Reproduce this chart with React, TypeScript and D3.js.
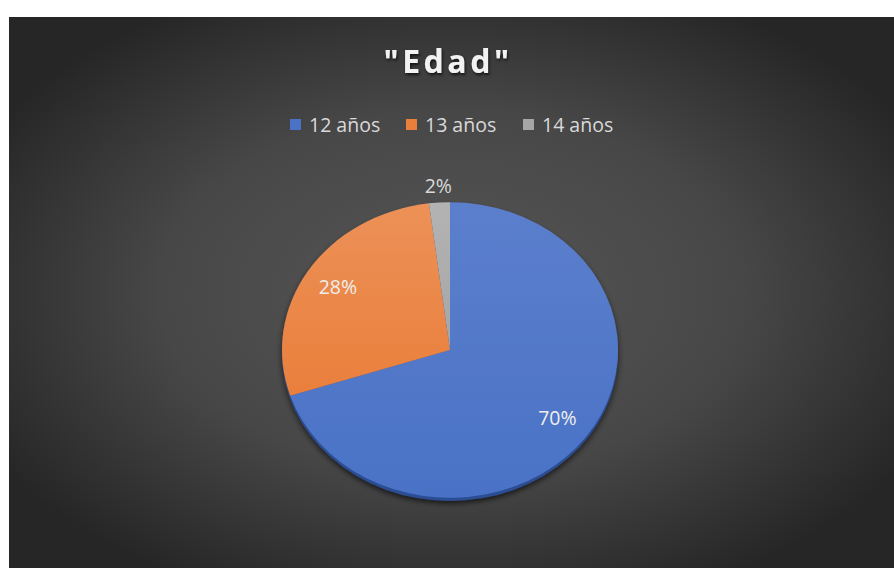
import React from 'react';
import * as d3 from 'd3';

const categories = ['12 años', '13 años', '14 años'];
const values = [70, 28, 2];
const colors = ['#4a72c6', '#ea7f3c', '#a6a6a6'];
const lightColors = ['#5b7fcc', '#ec9158', '#b3b3b3'];
const title = '"Edad"';

const W = 894;
const H = 568;

const App: React.FC = () => {
  const cx = 450;
  const cy = 350;
  const R = 168;
  const squash = 0.88;

  const pie = d3.pie<number>().sort(null).value(d => d);
  const arcs = pie(values);
  const arc = d3.arc<d3.PieArcDatum<number>>().innerRadius(0).outerRadius(R);
  const labelArc = d3.arc<d3.PieArcDatum<number>>().innerRadius(R * 0.79).outerRadius(R * 0.79);
  const outerLabelArc = d3.arc<d3.PieArcDatum<number>>().innerRadius(R * 1.11).outerRadius(R * 1.11);

  // legend layout
  const legendX = d3.scaleOrdinal<string, number>().domain(categories).range([290, 406, 523]);

  return (
    <div style={{ position: 'absolute', left: 0, top: 0, width: W, height: H }}>
      <svg width={W} height={H} style={{ display: 'block', fontFamily: '"Open Sans", "Noto Sans", sans-serif' }}>
        <defs>
          <radialGradient id="bg" cx="50%" cy="50%" r="60%">
            <stop offset="0%" stopColor="#565656" />
            <stop offset="55%" stopColor="#474747" />
            <stop offset="100%" stopColor="#262626" />
          </radialGradient>
          {colors.map((c, i) => (
            <linearGradient key={i} id={`g${i}`} x1="0" y1="0" x2="0" y2="1">
              <stop offset="0%" stopColor={lightColors[i]} />
              <stop offset="100%" stopColor={c} />
            </linearGradient>
          ))}
          <filter id="shadow" x="-20%" y="-20%" width="140%" height="140%">
            <feGaussianBlur in="SourceAlpha" stdDeviation="3" />
            <feOffset dx="0" dy="3" result="b" />
            <feComponentTransfer><feFuncA type="linear" slope="0.6" /></feComponentTransfer>
            <feMerge><feMergeNode /><feMergeNode in="SourceGraphic" /></feMerge>
          </filter>
          <filter id="tshadow" x="-20%" y="-40%" width="140%" height="180%">
            <feDropShadow dx="1" dy="2" stdDeviation="1.5" floodColor="#000" floodOpacity="0.7" />
          </filter>
        </defs>
        <rect x={9} y={17} width={W - 9} height={H - 17} fill="url(#bg)" />

        <text x={448} y={73} textAnchor="middle" fill="#f2f2f2" fontSize={32} fontWeight="bold"
          letterSpacing={3.5} filter="url(#tshadow)">{title}</text>

        <g fontSize={19.5} fill="#d9d9d9">
          {categories.map((c, i) => (
            <g key={c} transform={`translate(${legendX(c)},0)`}>
              <rect x={0} y={119} width={11} height={11} fill={colors[i]} />
              <text x={19} y={132}>{c}</text>
            </g>
          ))}
        </g>

        <g transform={`translate(${cx},${cy}) scale(1,${squash})`}>
          <g filter="url(#shadow)">
            <ellipse cx={0} cy={3.5} rx={R} ry={R} fill="#2c4d93" />
            {arcs.map((a, i) => (
              <path key={i} d={arc(a) || ''} fill={`url(#g${i})`} />
            ))}
          </g>
        </g>

        <g fontSize={19.5} textAnchor="middle">
          {arcs.map((a, i) => {
            const [x, y] = (i === 2 ? outerLabelArc : labelArc).centroid(a);
            return (
              <text key={i} x={cx + x} y={cy + y * squash} dy="0.35em" fill={i === 2 ? '#d9d9d9' : '#eeeeee'}>
                {`${values[i]}%`}
              </text>
            );
          })}
        </g>
      </svg>
    </div>
  );
};

export default App;
